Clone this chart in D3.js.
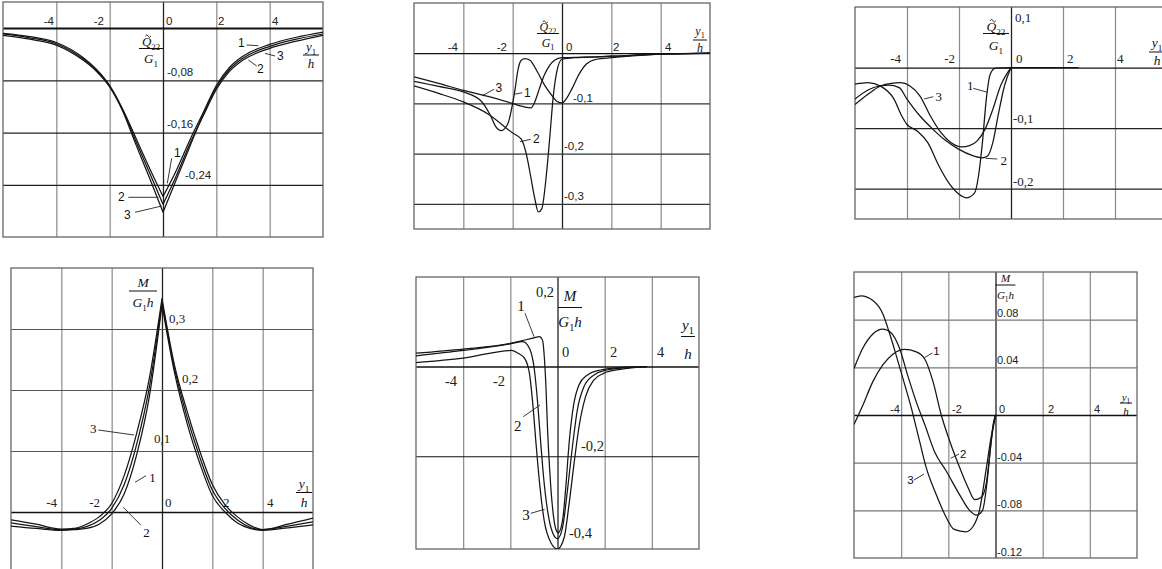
<!DOCTYPE html>
<html><head><meta charset="utf-8">
<script src="https://cdn.jsdelivr.net/npm/d3@7"></script>
<style>body{margin:0;background:#fff;overflow:hidden}svg{display:block;background:#fff}</style>
</head><body><svg id="c" width="1162" height="569"></svg>
<script>
// ---------------- DATA ----------------
const xGridValues = [-4, -2, 0, 2, 4];
const xTickText = ["-4", "-2", "0", "2", "4"];

// Panel 1: Q22/G1, curves 1,2,3
const p1YTicks = ["-0,08", "-0,16", "-0,24"];
const p1Curve1 = [[-6,-0.008],[-5,-0.013],[-4,-0.022],[-3,-0.045],[-2.5,-0.063],[-2,-0.088],[-1.5,-0.125],[-1,-0.170],[-0.5,-0.215],[0,-0.258],[0.5,-0.218],[1,-0.172],[1.5,-0.13],[2,-0.088],[2.5,-0.06],[3,-0.043],[4,-0.025],[5,-0.014],[6,-0.006]];
const p1Curve2 = [[-6,-0.011],[-5,-0.017],[-4,-0.026],[-3,-0.049],[-2.5,-0.066],[-2,-0.09],[-1.5,-0.127],[-1,-0.175],[-0.5,-0.222],[0,-0.270],[0.5,-0.226],[1,-0.178],[1.5,-0.135],[2,-0.094],[2.5,-0.066],[3,-0.049],[4,-0.031],[5,-0.02],[6,-0.011]];
const p1Curve3 = [[-6,-0.009],[-5,-0.015],[-4,-0.024],[-3,-0.047],[-2.5,-0.064],[-2,-0.089],[-1.5,-0.128],[-1,-0.18],[-0.5,-0.23],[0,-0.282],[0.5,-0.232],[1,-0.182],[1.5,-0.133],[2,-0.091],[2.5,-0.063],[3,-0.046],[4,-0.028],[5,-0.017],[6,-0.009]];

// Panel 2
const p2YTicks = ["-0,1", "-0,2", "-0,3"];
const p2Curve1 = [[-6,-0.056],[-5,-0.066],[-4,-0.077],[-3.3,-0.094],[-2.9,-0.124],[-2.7,-0.145],[-2.46,-0.154],[-2.2,-0.141],[-2.0,-0.1],[-1.9,-0.071],[-1.8,-0.037],[-1.65,-0.014],[-1.5,-0.011],[-1.3,-0.014],[-1.0,-0.037],[-0.7,-0.064],[-0.4,-0.085],[-0.2,-0.096],[0,-0.099],[0.2,-0.089],[0.4,-0.071],[0.7,-0.041],[1.0,-0.021],[1.4,-0.012],[2,-0.009],[3,-0.005],[4,-0.002],[6,0]];
const p2Curve2 = [[-6,-0.065],[-5,-0.08],[-4,-0.097],[-3,-0.121],[-2,-0.159],[-1.65,-0.171],[-1.45,-0.2],[-1.3,-0.237],[-1.1,-0.29],[-0.96,-0.316],[-0.82,-0.31],[-0.65,-0.25],[-0.5,-0.17],[-0.35,-0.084],[-0.2,-0.034],[0,-0.012],[0.5,-0.009],[1,-0.008],[2,-0.006],[4,-0.002],[6,0]];
const p2Curve3 = [[-6,-0.047],[-5,-0.06],[-4,-0.074],[-3,-0.086],[-2,-0.1],[-1.6,-0.106],[-1.26,-0.109],[-1.13,-0.1],[-0.92,-0.071],[-0.72,-0.044],[-0.5,-0.024],[-0.3,-0.014],[0,-0.009],[1,-0.008],[2,-0.006],[4,-0.002],[6,0]];

// Panel 3
const p3YTicks = ["0,1", "-0,1", "-0,2"];
const p3Curve1 = [[-6,-0.0275],[-5.5,-0.025],[-5,-0.031],[-4.5,-0.052],[-4.2,-0.08],[-4,-0.094],[-3.6,-0.105],[-3.2,-0.124],[-2.8,-0.16],[-2.4,-0.19],[-2.0,-0.209],[-1.7,-0.215],[-1.4,-0.207],[-1.25,-0.179],[-1.1,-0.124],[-0.95,-0.052],[-0.8,-0.011],[-0.6,-0.001],[0,0],[2.6,0]];
const p3Curve2 = [[-6,-0.052],[-5.5,-0.037],[-5,-0.03],[-4.7,-0.029],[-4.3,-0.033],[-4,-0.052],[-3.5,-0.08],[-3,-0.102],[-2.5,-0.121],[-2,-0.135],[-1.5,-0.145],[-1.1,-0.149],[-0.9,-0.146],[-0.7,-0.124],[-0.5,-0.08],[-0.25,-0.03],[0,0]];
const p3Curve3 = [[-6,-0.061],[-5.5,-0.044],[-5,-0.03],[-4.6,-0.026],[-4.25,-0.025],[-3.9,-0.03],[-3.5,-0.047],[-3.1,-0.08],[-2.7,-0.107],[-2.3,-0.124],[-1.9,-0.131],[-1.6,-0.129],[-1.3,-0.121],[-1.0,-0.102],[-0.7,-0.069],[-0.4,-0.03],[0,0]];

// Panel 4: M/(G1 h)
const p4YTicks = ["0,3", "0,2", "0,1"];
const p4Curve1 = [[-6,-0.018],[-5,-0.024],[-4,-0.029],[-3.5,-0.028],[-3,-0.024],[-2.5,-0.014],[-2,0.006],[-1.5,0.045],[-1,0.112],[-0.5,0.205],[0,0.345],[0.5,0.235],[1,0.155],[1.5,0.09],[2,0.036],[2.5,0.006],[3,-0.013],[3.5,-0.025],[4,-0.029],[5,-0.023],[6,-0.016]];
const p4Curve2 = [[-6,-0.023],[-5,-0.027],[-4,-0.03],[-3.5,-0.029],[-3,-0.027],[-2.5,-0.02],[-2,-0.003],[-1.5,0.03],[-1,0.095],[-0.5,0.19],[0,0.34],[0.5,0.228],[1,0.145],[1.5,0.08],[2,0.027],[2.5,0.0],[3,-0.018],[3.5,-0.027],[4,-0.03],[5,-0.026],[6,-0.021]];
const p4Curve3 = [[-6,-0.013],[-5,-0.02],[-4,-0.028],[-3.5,-0.027],[-3,-0.02],[-2.5,-0.008],[-2,0.014],[-1.5,0.06],[-1,0.13],[-0.5,0.22],[0,0.35],[0.5,0.24],[1,0.165],[1.5,0.1],[2,0.045],[2.5,0.012],[3,-0.008],[3.5,-0.022],[4,-0.029],[5,-0.02],[6,-0.01]];

// Panel 5
const p5YTicks = ["0,2", "-0,2", "-0,4"];
const p5Curve1 = [[-6,0.03],[-4,0.039],[-2,0.052],[-1.5,0.058],[-1,0.064],[-0.77,0.067],[-0.63,0.058],[-0.56,0.022],[-0.49,-0.045],[-0.42,-0.142],[-0.32,-0.24],[-0.21,-0.315],[-0.07,-0.363],[0.03,-0.371],[0.21,-0.345],[0.35,-0.27],[0.49,-0.172],[0.67,-0.09],[0.91,-0.041],[1.26,-0.019],[1.82,-0.0075],[2.66,-0.002],[3.8,0]];
const p5Curve2 = [[-6,0.024],[-4,0.036],[-2,0.051],[-1.47,0.056],[-1.19,0.041],[-0.98,-0.007],[-0.84,-0.082],[-0.73,-0.157],[-0.59,-0.247],[-0.42,-0.322],[-0.17,-0.375],[0,-0.384],[0.21,-0.36],[0.42,-0.277],[0.63,-0.18],[0.84,-0.097],[1.12,-0.045],[1.54,-0.019],[2.1,-0.0075],[2.94,-0.002],[3.8,0]];
const p5Curve3 = [[-6,0.009],[-4,0.019],[-1.96,0.036],[-1.68,0.03],[-1.4,0.019],[-1.19,-0.015],[-1.05,-0.082],[-0.91,-0.172],[-0.77,-0.255],[-0.56,-0.345],[-0.28,-0.393],[0,-0.407],[0.28,-0.382],[0.49,-0.307],[0.7,-0.217],[0.91,-0.135],[1.19,-0.067],[1.54,-0.03],[1.96,-0.015],[2.66,-0.006],[3.8,0]];

// Panel 6
const p6YTicks = ["0.08", "0.04", "-0.04", "-0.08", "-0.12"];
const p6Curve1 = [[-6,-0.008],[-5.63,0.008],[-5.2,0.028],[-4.78,0.042],[-4.35,0.051],[-3.86,0.055],[-3.36,0.053],[-3.0,0.047],[-2.65,0.028],[-2.3,0.0],[-1.94,-0.022],[-1.52,-0.044],[-1.16,-0.061],[-0.88,-0.071],[-0.6,-0.069],[-0.38,-0.056],[-0.24,-0.033],[-0.1,-0.008],[0,0]];
const p6Curve2 = [[-6,0.039],[-5.63,0.056],[-5.2,0.068],[-4.78,0.072],[-4.43,0.069],[-4.07,0.056],[-3.72,0.033],[-3.36,0.011],[-3.0,-0.008],[-2.58,-0.031],[-2.09,-0.047],[-1.52,-0.067],[-1.1,-0.08],[-0.8,-0.084],[-0.55,-0.08],[-0.35,-0.055],[-0.2,-0.025],[0,0]];
const p6Curve3 = [[-6,0.0986],[-5.7,0.1],[-5.2,0.096],[-4.78,0.085],[-4.5,0.069],[-4.21,0.05],[-3.93,0.031],[-3.57,0.006],[-3.22,-0.022],[-2.94,-0.044],[-2.51,-0.067],[-2.16,-0.083],[-1.75,-0.096],[-1.25,-0.098],[-0.97,-0.094],[-0.68,-0.08],[-0.4,-0.046],[-0.18,-0.018],[0,0]];

const curveNames = ["1", "2", "3"];

// ---------------- DRAWING ----------------
const SERIF = "'Liberation Serif','Times New Roman',serif";
const SANS = "'Liberation Sans',Arial,sans-serif";
const svg = d3.select("#c");
const Q = [{t:"Q",it:1},{t:"22",sub:1}], G1 = [{t:"G",it:1},{t:"1",sub:1}];
const MM = [{t:"M",it:1}], G1h = [{t:"G",it:1},{t:"1",sub:1},{t:"h",it:1}];
const Y1 = [{t:"y",it:1},{t:"1",sub:1}], H = [{t:"h",it:1}];

function rich(g, x, y, parts, size, fam, anchor) {
  const t = g.append("text").attr("x", x).attr("y", y).attr("font-family", fam)
    .attr("font-size", size).attr("text-anchor", anchor || "middle").attr("fill", "#111");
  let shifted = false;
  parts.forEach(p => {
    const s = t.append("tspan").text(p.t);
    if (p.it) s.attr("font-style", "italic");
    if (p.sub) { s.attr("font-size", size * 0.68); if (!shifted) { s.attr("dy", size * 0.28); shifted = true; } }
    else if (shifted) { s.attr("dy", -size * 0.28); shifted = false; }
  });
  return t;
}
function fraction(g, f) {
  const t = rich(g, f.cx, f.num, f.top, f.size, SERIF, "middle");
  if (f.tilde) {
    const bb = t.node().getBBox();
    const qw = t.select("tspan").node().getComputedTextLength();
    const cx = bb.x + qw / 2 + f.size * 0.12, ty = f.num - f.size * 0.86, w = f.size * 0.42, h = f.size * 0.1;
    g.append("path").attr("d", `M${cx - w/2},${ty + h} q${w/4},${-2*h} ${w/2},0 t${w/2},0`)
      .attr("fill", "none").attr("stroke", "#111").attr("stroke-width", 0.9);
  }
  g.append("line").attr("x1", f.cx - f.hw).attr("x2", f.cx + f.hw).attr("y1", f.bar).attr("y2", f.bar)
    .attr("stroke", "#111").attr("stroke-width", 1);
  rich(g, f.cx, f.den, f.bot, f.size, SERIF, "middle");
}

const panels = [
  { box:[3,323,2,237], yDom:[0.04,-0.32], hGrid:[0,-0.08,-0.16,-0.24], curves:[p1Curve1,p1Curve2,p1Curve3], split:true,
    hCol:"#222", vCol:"#8a8a8a", zeroW:2, font:SANS, fs:11.5,
    xLab:{ys:[25,25,25,25,25], xs:[54,104,166,218,272], an:["end","end","start","start","start"]},
    yLab:{text:p1YTicks, xs:[167,167,185], ys:[76,128,179]},
    fracs:[{cx:151,num:46,bar:48.5,den:63,hw:12,top:Q,bot:G1,size:13,tilde:true},{cx:311,num:51,bar:55,den:68,hw:8,top:Y1,bot:H,size:13}],
    labels:[{t:"1",x:238,y:47,l:[246.7,45,258.3,45.7]},{t:"3",x:277,y:60,l:[265,53.3,275,56]},{t:"2",x:257,y:73,l:[248.3,60,256.7,66]},
            {t:"1",x:174,y:156.5,l:[171.7,158.3,167.3,183.3]},{t:"2",x:118,y:201,l:[128.3,197.3,158.3,197.3]},{t:"3",x:124,y:219,l:[135,212.3,161.7,206]}],
    lfont:SANS, lfs:12 },
  { box:[414,710,3,229], yDom:[0.1,-0.35], hGrid:[0,-0.1,-0.2,-0.3], curves:[p2Curve1,p2Curve2,p2Curve3],
    hCol:"#333", vCol:"#8a8a8a", zeroW:1.3, font:SANS, fs:11.5,
    xLab:{ys:[51,51,51,51,51], xs:[458,507,566,613,665], an:["end","end","start","start","start"]},
    yLab:{text:p2YTicks, xs:[573,564,564], ys:[101.5,150,200]},
    fracs:[{cx:548,num:31,bar:33.5,den:47,hw:11,top:Q,bot:G1,size:12,tilde:true},{cx:700,num:35,bar:40,den:52,hw:7,top:Y1,bot:H,size:12}],
    labels:[{t:"3",x:495.5,y:91.5,l:[494,89.3,482.3,95.7]},{t:"1",x:524,y:96.5,l:[522.3,92.7,514,94.3]},{t:"2",x:533,y:143,l:[530.7,139.3,520,141.7]}],
    lfont:SANS, lfs:12 },
  { box:[855,1167,7,219], yDom:[0.1,-0.25], hGrid:[0,-0.1,-0.2], curves:[p3Curve1,p3Curve2,p3Curve3],
    hCol:"#222", vCol:"#8a8a8a", zeroW:1.3, font:SERIF, fs:13,
    xLab:{ys:[63,63,63,63,63], xs:[901,955,1016,1067,1117], an:["end","end","start","start","start"]},
    yLab:{text:p3YTicks, xs:[1015,1013,1013], ys:[22,123,186]},
    fracs:[{cx:996,num:31,bar:33.5,den:50,hw:13,top:Q,bot:G1,size:13.5,tilde:true},{cx:1157,num:47,bar:52,den:65,hw:8,top:Y1,bot:H,size:13.5}],
    labels:[{t:"1",x:967,y:90,l:[973.3,88.3,987.3,92.3]},{t:"3",x:935.5,y:100.5,l:[933.3,96.7,924,99]},{t:"2",x:1000.5,y:165,l:[997.3,159,985.7,158.3]}],
    lfont:SERIF, lfs:13 },
  { box:[11,313,268,573], yDom:[0.4,-0.1], hGrid:[0.3,0.2,0.1,0], curves:[p4Curve1,p4Curve2,p4Curve3], split:true,
    hCol:"#555", vCol:"#8a8a8a", zeroW:1.3, font:SERIF, fs:13,
    xLab:{ys:[507,507,507,507,507], xs:[57,100,165,223,267], an:["end","end","start","start","start"]},
    yLab:{text:p4YTicks, xs:[169,182,154], ys:[323,383,443]},
    fracs:[{cx:143,num:287,bar:291,den:307,hw:14,top:MM,bot:G1h,size:13.5},{cx:304,num:488,bar:492.5,den:507,hw:8,top:Y1,bot:H,size:13.5}],
    labels:[{t:"3",x:90,y:433,l:[98.3,430,134,435]},{t:"1",x:149.3,y:481.5,l:[146,475.7,135,482.3]},{t:"2",x:143.3,y:536.5,l:[140.7,525,123.3,507.3]}],
    lfont:SERIF, lfs:13 },
  { box:[416,699,277,549], yDom:[0.2,-0.407], hGrid:[0,-0.2], curves:[p5Curve1,p5Curve2,p5Curve3],
    hCol:"#111", vCol:"#8a8a8a", zeroW:1.5, font:SERIF, fs:14.5,
    xLab:{ys:[386,386,357,357,357], xs:[457,505,562,610,657], an:["end","end","start","start","start"]},
    yLab:{text:p5YTicks, xs:[554,581,569], ys:[297,451,538], an:["end","start","start"]},
    fracs:[{cx:570,num:301,bar:307.5,den:327,hw:12,top:MM,bot:G1h,size:15},{cx:688,num:330,bar:336.5,den:359,hw:7,top:Y1,bot:H,size:15}],
    labels:[{t:"1",x:517.3,y:311,l:[525,313.3,534,336.7]},{t:"2",x:514,y:431,l:[523.3,416.7,540,405]},{t:"3",x:522.3,y:519.5,l:[530.7,513.3,544.7,509.3]}],
    lfont:SERIF, lfs:15 },
  { box:[854,1137,272,558], yDom:[0.12,-0.12], hGrid:[0.08,0.04,0,-0.04,-0.08], curves:[p6Curve1,p6Curve2,p6Curve3],
    hCol:"#777", vCol:"#8a8a8a", zeroW:1.3, font:SANS, fs:11,
    xLab:{ys:[413,413,413,413,413], xs:[890,952,999,1048,1094], an:["start","start","start","start","start"]},
    yLab:{text:p6YTicks, xs:[997,997,997,997,997], ys:[317,364,461,508,556]},
    fracs:[{cx:1005.5,num:282,bar:285,den:298.5,hw:10,top:MM,bot:G1h,size:11},{cx:1126,num:400.5,bar:403,den:414.5,hw:6,top:Y1,bot:H,size:11}],
    labels:[{t:"1",x:933.3,y:355,l:[932.3,353,924.7,357.5]},{t:"2",x:960,y:458,l:[959,454,950.7,458.3]},{t:"3",x:907.3,y:484,l:[914,480,924,474]}],
    lfont:SANS, lfs:11.5 }
];

panels.forEach((P, pi) => {
  const [x0, x1, y0, y1] = P.box;
  const x = d3.scaleLinear().domain([-6, 6]).range([x0, x1]);
  const y = d3.scaleLinear().domain(P.yDom).range([y0, y1]);
  const g = svg.append("g");
  const cid = "clip" + pi;
  svg.append("clipPath").attr("id", cid).append("rect").attr("x", x0).attr("y", y0).attr("width", x1 - x0).attr("height", y1 - y0);

  // vertical grid via axis
  const gx = g.append("g").attr("transform", `translate(0,${y1})`)
    .call(d3.axisBottom(x).tickValues(xGridValues).tickSize(-(y1 - y0)).tickFormat(""));
  gx.select(".domain").remove();
  gx.selectAll(".tick line").attr("stroke", d => d === 0 ? "#222" : P.vCol).attr("stroke-width", d => d === 0 ? 1.3 : 1.2);
  // horizontal grid via axis
  const gy = g.append("g").attr("transform", `translate(${x0},0)`)
    .call(d3.axisRight(y).tickValues(P.hGrid).tickSize(x1 - x0).tickFormat(""));
  gy.select(".domain").remove();
  gy.selectAll(".tick line").attr("stroke", d => d === 0 ? "#111" : P.hCol).attr("stroke-width", d => d === 0 ? P.zeroW : 1.2);
  // border
  g.append("rect").attr("x", x0).attr("y", y0).attr("width", x1 - x0).attr("height", y1 - y0)
    .attr("fill", "none").attr("stroke", "#666").attr("stroke-width", 1.3);

  // tick labels
  xTickText.forEach((t, i) => {
    g.append("text").attr("x", P.xLab.xs[i]).attr("y", P.xLab.ys[i]).attr("text-anchor", P.xLab.an[i])
      .attr("font-family", P.font).attr("font-size", P.fs).attr("fill", "#222").text(t);
  });
  P.yLab.text.forEach((t, i) => {
    g.append("text").attr("x", P.yLab.xs[i]).attr("y", P.yLab.ys[i])
      .attr("text-anchor", P.yLab.an ? P.yLab.an[i] : "start")
      .attr("font-family", P.font).attr("font-size", P.fs).attr("fill", "#222").text(t);
  });

  // curves
  const line = d3.line().x(d => x(d[0])).y(d => y(d[1])).curve(d3.curveMonotoneX);
  const cg = g.append("g").attr("clip-path", `url(#${cid})`);
  P.curves.forEach((c, ci) => {
    const parts = P.split ? [c.filter(d => d[0] <= 0), c.filter(d => d[0] >= 0)] : [c];
    parts.forEach(part => {
      cg.append("path").datum(part).attr("d", line).attr("fill", "none")
        .attr("stroke", "#151515").attr("stroke-width", 1.25).attr("stroke-linejoin", "round")
        .attr("class", "curve-" + curveNames[ci]);
    });
  });

  // curve labels and leaders
  P.labels.forEach(L => {
    g.append("line").attr("x1", L.l[0]).attr("y1", L.l[1]).attr("x2", L.l[2]).attr("y2", L.l[3])
      .attr("stroke", "#222").attr("stroke-width", 0.9);
    g.append("text").attr("x", L.x).attr("y", L.y).attr("font-family", P.lfont).attr("font-size", P.lfs)
      .attr("fill", "#111").text(L.t);
  });

  // axis titles
  P.fracs.forEach(f => fraction(g, f));
});
</script>
</body></html>
